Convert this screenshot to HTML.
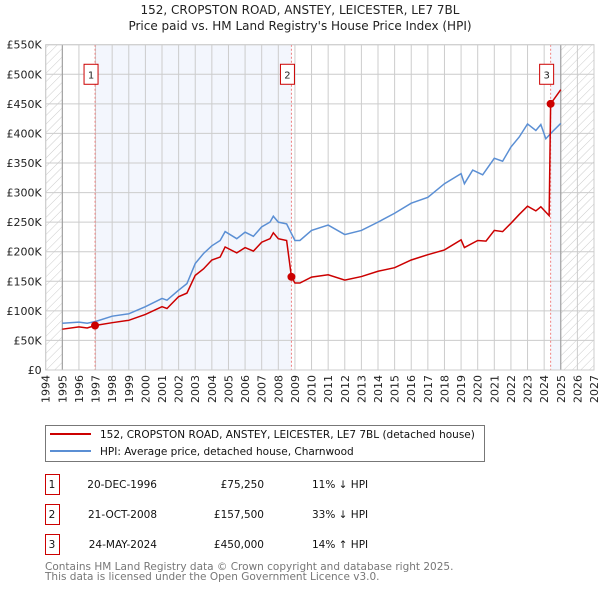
<!DOCTYPE html>
<html><head><meta charset="utf-8"><style>
body{margin:0;background:#fff;}
svg text{font-family:"DejaVu Sans","Liberation Sans",sans-serif;}
</style></head><body>
<svg id="c" width="600" height="590" viewBox="0 0 600 590" xmlns="http://www.w3.org/2000/svg">
<defs>
<pattern id="hatch" width="6" height="6" patternUnits="userSpaceOnUse" patternTransform="rotate(45)">
<line x1="0" y1="0" x2="0" y2="6" stroke="#ccc" stroke-width="1"/>
</pattern>
</defs>
<text x="300" y="14" text-anchor="middle" font-size="12" fill="#222">152, CROPSTON ROAD, ANSTEY, LEICESTER, LE7 7BL</text>
<text x="300" y="30" text-anchor="middle" font-size="12" fill="#222">Price paid vs. HM Land Registry's House Price Index (HPI)</text>
<g id="plot"></g>
<g>
<rect x="45.5" y="425.5" width="439" height="36" fill="#fff" stroke="#777"/>
<line x1="50" y1="434" x2="91" y2="434" stroke="#cc0000" stroke-width="2"/>
<text x="100" y="438" font-size="10.5" fill="#111">152, CROPSTON ROAD, ANSTEY, LEICESTER, LE7 7BL (detached house)</text>
<line x1="50" y1="451" x2="91" y2="451" stroke="#5b8fd4" stroke-width="2"/>
<text x="100" y="455" font-size="10.5" fill="#111">HPI: Average price, detached house, Charnwood</text>
</g>
<g id="table" font-size="10.5" fill="#111"></g>
<text x="45" y="570" font-size="10.5" fill="#777">Contains HM Land Registry data © Crown copyright and database right 2025.</text>
<text x="45" y="580" font-size="10.5" fill="#777">This data is licensed under the Open Government Licence v3.0.</text>
</svg>
<script>
const hpiYears=[1995,1996,1996.5,1997,1998,1999,2000,2001,2001.3,2002,2002.5,2003,2003.5,2004,2004.5,2004.8,2005.5,2006,2006.5,2007,2007.5,2007.7,2008,2008.5,2009,2009.3,2010,2011,2012,2013,2014,2015,2016,2017,2018,2019,2019.2,2019.7,2020.3,2021,2021.5,2022,2022.5,2023,2023.5,2023.8,2024.1,2024.5,2025];
const hpiValues=[79,81,79,82,91,95,107,121,118,135,146,180,197,210,219,234,222,233,226,242,250,260,250,247,219,219,236,245,229,236,250,265,282,292,315,332,315,338,330,358,353,377,394,416,405,415,391,403,417];
const priceYears=[1995,1996,1996.5,1996.97,1998,1999,2000,2001,2001.3,2002,2002.5,2003,2003.5,2004,2004.5,2004.8,2005.5,2006,2006.5,2007,2007.5,2007.7,2008,2008.5,2008.79,2009,2009.3,2010,2011,2012,2013,2014,2015,2016,2017,2018,2019,2019.2,2020,2020.5,2021,2021.5,2022,2022.5,2023,2023.5,2023.8,2024.3,2024.39,2025];
const priceValues=[69,73,71,75.25,80,84,94,107,104,124,130,160,171,186,191,208,198,207,201,216,222,232,222,219,157.5,147,147,157,161,152,158,167,173,186,195,203,220,207,219,218,236,234,248,263,277,269,276,261,450,474];
const saleYears=[1996.97,2008.79,2024.39];
const saleValues=[75.25,157.5,450];
const saleLabels=["1","2","3"];
const saleDates=["20-DEC-1996","21-OCT-2008","24-MAY-2024"];
const salePrices=["£75,250","£157,500","£450,000"];
const saleHpi=["11% ↓ HPI","33% ↓ HPI","14% ↑ HPI"];
const yTicks=[0,50,100,150,200,250,300,350,400,450,500,550];
const yTickLabels=["£0","£50K","£100K","£150K","£200K","£250K","£300K","£350K","£400K","£450K","£500K","£550K"];
const xTicks=[1994,1995,1996,1997,1998,1999,2000,2001,2002,2003,2004,2005,2006,2007,2008,2009,2010,2011,2012,2013,2014,2015,2016,2017,2018,2019,2020,2021,2022,2023,2024,2025,2026,2027];

const X0=45.7,X1=594,Y0=370,Y1=44.7;
const x=v=>X0+(v-1994)/(2027-1994)*(X1-X0);
const y=v=>Y0-v/550*(Y0-Y1);
const NS="http://www.w3.org/2000/svg";
const g=document.getElementById('plot');
function mk(t,a,p){const e=document.createElementNS(NS,t);for(const k in a)e.setAttribute(k,a[k]);(p||g).appendChild(e);return e;}

let r=mk('rect',{x:x(1994),y:Y1,width:x(1995)-x(1994),height:Y0-Y1,fill:'url(#hatch)'});

r=mk('rect',{x:x(2025),y:Y1,width:x(2027)-x(2025),height:Y0-Y1,fill:'url(#hatch)'});

r=mk('rect',{x:x(saleYears[0]),y:Y1,width:x(saleYears[1])-x(saleYears[0]),height:Y0-Y1,fill:'#f3f6fd'});

r=mk('rect',{x:x(saleYears[2]),y:Y1,width:x(2025)-x(saleYears[2]),height:Y0-Y1,fill:'#f3f6fd'});


yTicks.forEach((t,i)=>{
 const l=mk('line',{x1:X0,x2:X1,y1:y(t),y2:y(t),stroke:'#ccc','stroke-width':1});
 
 const tx=mk('text',{x:X0-4,y:y(t)+4,'text-anchor':'end','font-size':11,fill:'#222'});
 tx.textContent=yTickLabels[i];
 
});
xTicks.forEach(t=>{
 const l=mk('line',{x1:x(t),x2:x(t),y1:Y1,y2:Y0,stroke:'#ccc','stroke-width':1});
 
 const tx=mk('text',{transform:`translate(${x(t)+4},${Y0+5}) rotate(-90)`,'text-anchor':'end','font-size':11,fill:'#222'});
 tx.textContent=t;
 
});
[1995,2025].forEach(t=>{const l=mk('line',{x1:x(t),x2:x(t),y1:Y1,y2:Y0,stroke:'#999','stroke-width':1});
 });

saleYears.forEach((s,i)=>{
 const l=mk('line',{x1:x(s),x2:x(s),y1:Y1,y2:Y0,stroke:'#f08080','stroke-width':1,'stroke-dasharray':'2,2'});
 
});

let p=mk('polyline',{points:hpiYears.map((v,i)=>x(v)+','+y(hpiValues[i])).join(' '),fill:'none',stroke:'#5b8fd4','stroke-width':1.5});

p=mk('polyline',{points:priceYears.map((v,i)=>x(v)+','+y(priceValues[i])).join(' '),fill:'none',stroke:'#cc0000','stroke-width':1.5});


saleYears.forEach((s,i)=>{
 const c=mk('circle',{cx:x(s),cy:y(saleValues[i]),r:4,fill:'#cc0000'});
 
 const bx=x(s)-4,by=y(500);
 const b=mk('rect',{x:bx-7,y:by-10,width:14,height:20,fill:'#fff',stroke:'#cc0000'});
 
 const t=mk('text',{x:bx,y:by+4,'text-anchor':'middle','font-size':10,fill:'#222'});
 t.textContent=saleLabels[i];
 
});
const bd=mk('rect',{x:X0,y:Y1,width:X1-X0,height:Y0-Y1,fill:'none',stroke:'#ccc'});


const tb=document.getElementById('table');
saleLabels.forEach((s,i)=>{
 const cy=484+i*30;
 const b=mk('rect',{x:45.5,y:cy-9.5,width:14,height:20,fill:'#fff',stroke:'#cc0000'},tb);
 
 const cells=[[52,'middle',s],[157,'end',saleDates[i]],[264,'end',salePrices[i]],[312,'start',saleHpi[i]]];
 cells.forEach(c=>{const t=mk('text',{x:c[0],y:cy+4,'text-anchor':c[1]},tb);t.textContent=c[2];
  });
});
</script>
</body></html>
